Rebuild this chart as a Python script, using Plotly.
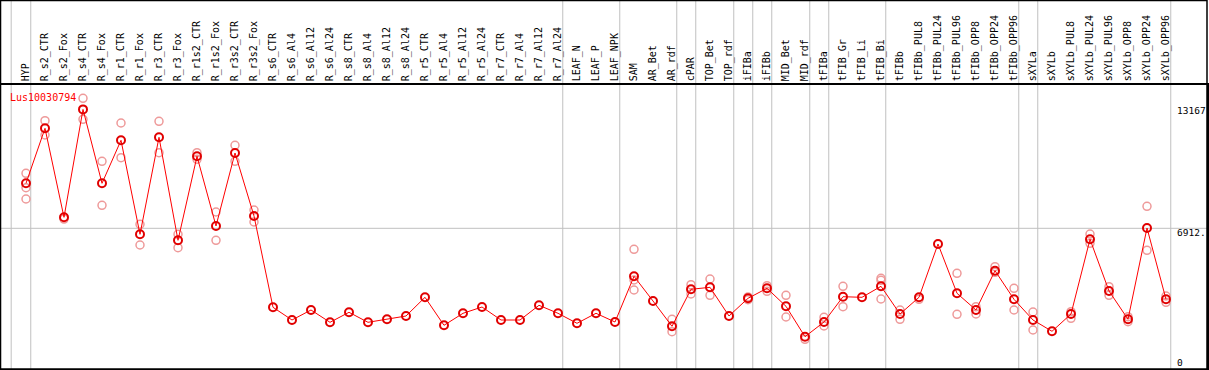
import plotly.graph_objects as go

categories = ["HYP", "R_s2_CTR", "R_s2_Fox", "R_s4_CTR", "R_s4_Fox", "R_r1_CTR", "R_r1_Fox",
              "R_r3_CTR", "R_r3_Fox", "R_r1s2_CTR", "R_r1s2_Fox", "R_r3s2_CTR", "R_r3s2_Fox",
              "R_s6_CTR", "R_s6_Al4", "R_s6_Al12", "R_s6_Al24", "R_s8_CTR", "R_s8_Al4", "R_s8_Al12",
              "R_s8_Al24", "R_r5_CTR", "R_r5_Al4", "R_r5_Al12", "R_r5_Al24", "R_r7_CTR", "R_r7_Al4",
              "R_r7_Al12", "R_r7_Al24", "LEAF_N", "LEAF_P", "LEAF_NPK", "SAM", "AR_Bet", "AR_rdf",
              "cPAR", "TOP_Bet", "TOP_rdf", "iFIBa", "iFIBb", "MID_Bet", "MID_rdf", "tFIBa",
              "tFIB_Gr", "tFIB_Li", "tFIB_Bi", "tFIBb", "tFIBb_PUL8", "tFIBb_PUL24", "tFIBb_PUL96",
              "tFIBb_OPP8", "tFIBb_OPP24", "tFIBb_OPP96", "sXYLa", "sXYLb", "sXYLb_PUL8",
              "sXYLb_PUL24", "sXYLb_PUL96", "sXYLb_OPP8", "sXYLb_OPP24", "sXYLb_OPP96"]

mean_values = [9280, 12173, 7491, 13167, 9280, 11542, 6597, 11700, 6281, 10700, 7034, 10874, 7560,
               2757, 2088, 2615, 1967, 2494, 1967, 2125, 2299, 3283, 1810, 2441, 2772, 2088, 2088,
               2862, 2441, 1915, 2441, 1983, 4387, 3088, 1757, 3703, 3809, 2299, 3230, 3756, 2809,
               1210, 1983, 3314, 3283, 3861, 2404, 3283, 6087, 3493, 2615, 4682, 3177, 2088, 1494,
               2404, 6334, 3614, 2125, 6928, 3177]

rep1 = [9806, 12573, 7400, 13751, 10437, 12452, 7123, 12541, 6597, 10890, 7770, 11279, 7875,
        None, None, None, None, None, None, None, None, None, None, None, None, None, None,
        None, None, None, None, None, 5808, None, 2125, 3945, 4245, None, 3300, 3893, 3388,
        1073, 2230, 3861, None, 4282, 2615, 3177, None, 4545, 2788, 4892, 3756, 2509, None,
        2525, 6613, 3840, 2262, 8070, 3351]

rep2 = [9048, 11820, None, 12647, 8122, 10627, 6034, 10890, 5892, 10542, 6281, 10437, 7244,
        None, None, None, None, None, None, None, None, None, None, None, None, None, None,
        None, None, None, None, None, 4193, None, 1473, 3456, 3388, None, 3160, 3598, 2246,
        None, 1773, 2788, None, 4177, 2125, None, None, 2388, 2404, 4598, 2615, 1562, None,
        2178, 6123, 3388, 2000, 5755, 3020]

rep3 = [8454, None, None, None, None, None, None, None, None, None, None, None, None,
        None, None, None, None, None, None, None, None, None, None, None, None, None, None,
        None, None, None, None, None, 3667, None, None, None, None, None, None, None, None,
        None, None, None, None, 3193, None, None, None, None, None, None, None, None, None,
        None, None, None, None, None, None]

group_ends = ["HYP", "R_r7_Al24", "LEAF_NPK", "AR_rdf", "cPAR", "TOP_rdf", "iFIBa", "iFIBb",
              "MID_rdf", "tFIBa", "tFIB_Bi", "tFIBb_OPP96", "sXYLa", "sXYLb_OPP96"]

axis_labels = ["13167", "6912.", "0"]
axis_values = [13167, 6912.5, 0]
gene = "Lus10030794"

idx = list(range(len(categories)))
FONT = "DejaVu Sans Mono"

fig = go.Figure()
for rep in (rep1, rep2, rep3):
    fig.add_trace(go.Scatter(
        x=idx, y=rep, mode="markers",
        marker=dict(symbol="circle-open", size=8, color="#ee9a9a", line=dict(width=1.5, color="#ee9a9a")),
        showlegend=False, hoverinfo="skip"))

fig.add_trace(go.Scatter(
    x=idx, y=mean_values, mode="lines+markers",
    line=dict(color="#ff0000", width=1),
    marker=dict(symbol="circle-open", size=8, color="#e00000", line=dict(width=2, color="#e00000")),
    showlegend=False))

shapes = []
sep_x = [-0.78] + [categories.index(n) + 0.25 for n in group_ends]
for sx in sep_x:
    shapes.append(dict(type="line", xref="x", yref="paper", x0=sx, x1=sx, y0=0, y1=1.299,
                       line=dict(color="#c0c0c0", width=1), layer="below"))
shapes.append(dict(type="line", xref="paper", yref="y", x0=0, x1=1, y0=6912.5, y1=6912.5,
                   line=dict(color="#c0c0c0", width=1), layer="below"))
shapes.append(dict(type="rect", xref="paper", yref="paper", x0=-0.0004, x1=1.0, y0=0, y1=1.2975,
                   line=dict(color="black", width=1.5), fillcolor="rgba(0,0,0,0)"))

label_shifts = [6, 3, 5]
annotations = []
for txt, val, sh in zip(axis_labels, axis_values, label_shifts):
    annotations.append(dict(text=txt, xref="paper", yref="y", x=0.9735, y=val, xanchor="left",
                            yanchor="top", showarrow=False, yshift=sh,
                            font=dict(family=FONT, size=9.5, color="black")))
annotations.append(dict(text=gene, xref="paper", yref="paper", x=0.0055, y=0.955, xanchor="left",
                        yanchor="middle", showarrow=False,
                        font=dict(family=FONT, size=10, color="#ff0000")))

fig.update_layout(
    width=1209, height=370,
    margin=dict(l=1, r=2, t=85, b=1, autoexpand=False),
    paper_bgcolor="white", plot_bgcolor="white",
    shapes=shapes, annotations=annotations,
    xaxis=dict(range=[-1.3158, 62.158], tickmode="array", tickvals=idx, ticktext=categories,
               side="top", tickangle=-90, showgrid=False, zeroline=False, ticks="",
               automargin=False,
               tickfont=dict(family=FONT, size=10, color="black"),
               showline=True, linecolor="black", linewidth=1.5, mirror=True),
    yaxis=dict(range=[-489, 14451], showgrid=False, zeroline=False, showticklabels=False,
               automargin=False,
               showline=True, linecolor="black", linewidth=1.5, mirror=True),
)

fig.write_html("out.html", config={"displayModeBar": False},
               post_script="document.body.style.margin='0';document.body.style.overflow='hidden';")
